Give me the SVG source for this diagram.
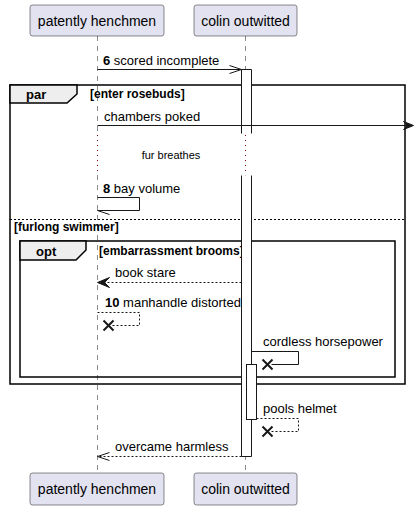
<svg xmlns="http://www.w3.org/2000/svg" width="414" height="510" viewBox="0 0 414 510">
<style>
.part rect{fill:#E2E2F0;stroke:#181818;stroke-width:0.5}
.part text{font-family:"Liberation Sans",Arial,sans-serif;font-size:14px;fill:#000}
.life{stroke:#181818;stroke-width:0.5;stroke-dasharray:5,5;fill:none}
.act{fill:#fff;stroke:#181818;stroke-width:1}
.msg{stroke:#181818;stroke-width:1;fill:none}
.dash{stroke-dasharray:2,2}
.lbl{font-family:"Liberation Sans",Arial,sans-serif;font-size:13px;fill:#000}
.frame{fill:none;stroke:#000;stroke-width:1.5}
.tab{fill:#EEEEEE;stroke:#000;stroke-width:1.5}
.ft{font-family:"Liberation Sans",Arial,sans-serif;font-weight:bold;font-size:13px;fill:#000}
.fc{font-family:"Liberation Sans",Arial,sans-serif;font-weight:bold;font-size:12px;fill:#000}
.x{stroke:#181818;stroke-width:2;fill:none}
.delay{stroke:#800000;stroke-width:1;stroke-dasharray:1,4}
</style>
<g id="lifelines" transform="translate(0.5,0)">
<line class="life" x1="97" y1="36" x2="97" y2="133"/>
<line class="life" x1="97" y1="175" x2="97" y2="473"/>
<line class="life" x1="245" y1="36" x2="245" y2="133"/>
<line class="life" x1="245" y1="175" x2="245" y2="473"/>
</g>
<g id="frames">
<rect class="frame" x="10" y="85" width="395" height="299"/>
<path class="tab" d="M10,85 H77 V94 L67,103 H10 Z"/>
<text class="ft" x="26" y="99">par</text>
<text class="fc" x="90" y="98">[enter rosebuds]</text>
<line x1="10" y1="219.5" x2="405" y2="219.5" stroke="#000" stroke-width="1" stroke-dasharray="2,2"/>
<text class="fc" x="14" y="231">[furlong swimmer]</text>
<rect class="frame" x="20" y="241" width="375" height="136"/>
<path class="tab" d="M20,241 H86 V250 L76,260 H20 Z"/>
<text class="ft" x="36" y="256">opt</text>
<text class="fc" x="99" y="255">[embarrassment brooms]</text>
</g>
<g id="activations" transform="translate(0.5,0.5)">
<path d="M241,133 V69 H251 V133" class="act"/>
<path d="M241,175 V456 H251 V175" class="act"/>
<rect class="act" x="246" y="364" width="10" height="55"/>
</g>
<g id="delay" transform="translate(0.5,0)">
<line class="delay" x1="97" y1="135" x2="97" y2="175"/>
<line class="delay" x1="245" y1="135" x2="245" y2="175"/>
</g>
<text x="171" y="159" text-anchor="middle" font-family="Liberation Sans,Arial,sans-serif" font-size="11px">fur breathes</text>
<g id="connectors">
<g transform="translate(0.5,0.5)">
<line class="msg" x1="97" y1="69" x2="240" y2="69"/>
<polyline class="msg" points="229,65 241,69 229,73"/>
<line class="msg" x1="97" y1="125" x2="409" y2="125"/>
<polygon points="403,121 413,125 403,129 407,125" fill="#181818" stroke="#181818"/>
<polyline class="msg" points="97,197 139,197 139,210 97,210"/>
<line class="msg" x1="97" y1="210" x2="109" y2="214"/>
<line class="msg dash" x1="241" y1="282" x2="99" y2="282"/>
<polygon points="97,282 109,277 104,282 109,287" fill="#181818" stroke="#181818"/>
<polyline class="msg dash" points="97,312 139,312 139,325 112,325"/>
<path class="x" d="M103,320 L113,330 M113,320 L103,330"/>
<polyline class="msg" points="251,351 298,351 298,364 271,364"/>
<path class="x" d="M262,359 L272,369 M272,359 L262,369"/>
<polyline class="msg dash" points="256,418 298,418 298,431 271,431"/>
<path class="x" d="M262,426 L272,436 M272,426 L262,436"/>
<line class="msg dash" x1="241" y1="456" x2="98" y2="456"/>
<polyline class="msg" points="109,452 97,456 109,460"/>
</g>
<text class="lbl" x="103" y="65"><tspan font-weight="bold">6</tspan> scored incomplete</text>
<text class="lbl" x="104" y="121">chambers poked</text>
<text class="lbl" x="103" y="193"><tspan font-weight="bold">8</tspan> bay volume</text>
<text class="lbl" x="115" y="277">book stare</text>
<text class="lbl" x="105" y="307"><tspan font-weight="bold">10</tspan> manhandle distorted</text>
<text class="lbl" x="263" y="346">cordless horsepower</text>
<text class="lbl" x="263" y="413">pools helmet</text>
<text class="lbl" x="115" y="451">overcame harmless</text>
</g>
<g id="p1" class="part">
<rect x="30" y="5" width="134" height="31" rx="2.5"/>
<text x="97" y="26" text-anchor="middle">patently henchmen</text>
</g>
<g id="p2" class="part">
<rect x="194" y="5" width="103" height="31" rx="2.5"/>
<text x="245.5" y="26" text-anchor="middle">colin outwitted</text>
</g>
<g id="p1b" class="part">
<rect x="30" y="473" width="134" height="32" rx="2.5"/>
<text x="97" y="494" text-anchor="middle">patently henchmen</text>
</g>
<g id="p2b" class="part">
<rect x="194" y="473" width="103" height="32" rx="2.5"/>
<text x="245.5" y="494" text-anchor="middle">colin outwitted</text>
</g>
</svg>
